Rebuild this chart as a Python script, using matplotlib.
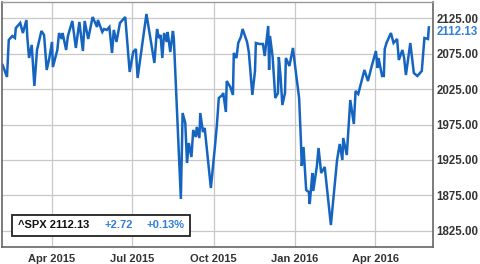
import pandas as pd
import numpy as np
import matplotlib
matplotlib.use("Agg")
import matplotlib.pyplot as plt
import matplotlib.dates as mdates
from matplotlib.patches import Rectangle

dates = [
    "2015-02-04", "2015-02-09", "2015-02-11", "2015-02-15", "2015-02-18", "2015-02-19",
    "2015-02-24", "2015-02-27", "2015-03-03", "2015-03-04", "2015-03-06", "2015-03-09",
    "2015-03-12", "2015-03-15", "2015-03-20", "2015-03-23", "2015-03-26", "2015-03-29",
    "2015-04-01", "2015-04-02", "2015-04-07", "2015-04-09", "2015-04-12", "2015-04-13",
    "2015-04-17", "2015-04-19", "2015-04-24", "2015-04-28", "2015-05-02", "2015-05-06",
    "2015-05-08", "2015-05-12", "2015-05-17", "2015-05-22", "2015-05-23", "2015-05-28",
    "2015-05-30", "2015-06-02", "2015-06-05", "2015-06-08", "2015-06-10", "2015-06-13",
    "2015-06-17", "2015-06-23", "2015-06-28", "2015-07-02", "2015-07-05", "2015-07-07",
    "2015-07-17", "2015-07-26", "2015-07-29", "2015-07-31", "2015-08-02", "2015-08-04",
    "2015-08-06", "2015-08-09", "2015-08-10", "2015-08-13", "2015-08-16", "2015-08-17",
    "2015-08-25", "2015-08-27", "2015-08-30", "2015-09-01", "2015-09-03", "2015-09-06",
    "2015-09-08", "2015-09-11", "2015-09-12", "2015-09-15", "2015-09-16", "2015-09-19",
    "2015-09-21", "2015-09-28", "2015-10-03", "2015-10-05", "2015-10-07", "2015-10-11",
    "2015-10-12", "2015-10-15", "2015-10-16", "2015-10-20", "2015-10-23", "2015-10-24",
    "2015-10-27", "2015-10-29", "2015-11-01", "2015-11-03", "2015-11-08", "2015-11-10",
    "2015-11-14", "2015-11-17", "2015-11-18", "2015-11-22", "2015-11-26", "2015-11-28",
    "2015-12-01", "2015-12-02", "2015-12-03", "2015-12-04", "2015-12-07", "2015-12-10",
    "2015-12-13", "2015-12-14", "2015-12-16", "2015-12-18", "2015-12-21", "2015-12-22",
    "2015-12-26", "2015-12-30", "2016-01-02", "2016-01-06", "2016-01-08", "2016-01-09",
    "2016-01-11", "2016-01-14", "2016-01-17", "2016-01-18", "2016-01-21", "2016-01-22",
    "2016-01-26", "2016-01-28", "2016-01-31", "2016-02-04", "2016-02-11", "2016-02-18",
    "2016-02-21", "2016-02-24", "2016-02-25", "2016-02-29", "2016-03-04", "2016-03-08",
    "2016-03-10", "2016-03-13", "2016-03-20", "2016-03-24", "2016-03-28", "2016-04-02",
    "2016-04-04", "2016-04-05", "2016-04-09", "2016-04-11", "2016-04-12", "2016-04-14",
    "2016-04-19", "2016-04-22", "2016-04-26", "2016-04-28", "2016-05-02", "2016-05-04",
    "2016-05-06", "2016-05-11", "2016-05-15", "2016-05-19", "2016-05-24", "2016-05-27",
    "2016-05-31", "2016-06-01",
]

closes = [
    2059.0, 2042.1, 2094.4, 2100.0, 2097.2, 2111.3,
    2118.4, 2104.2, 2122.6, 2098.6, 2068.9, 2087.3,
    2029.4, 2080.2, 2107.1, 2101.4, 2052.0, 2068.9,
    2091.6, 2056.2, 2080.2, 2104.2, 2095.8, 2104.2,
    2080.2, 2100.0, 2121.2, 2083.1, 2119.8, 2078.8,
    2121.2, 2095.8, 2126.8, 2112.7, 2122.6, 2105.7,
    2109.9, 2108.5, 2112.7, 2076.0, 2108.5, 2091.6,
    2118.4, 2126.8, 2049.2, 2077.4, 2081.6, 2040.7,
    2131.1, 2061.9, 2109.9, 2097.2, 2101.4, 2068.9,
    2104.2, 2091.6, 2105.7, 2077.4, 2107.1, 2097.2,
    1869.8, 1991.2, 1977.1, 1920.6, 1948.9, 1929.1,
    1967.2, 1957.3, 1971.5, 1955.9, 1991.2, 1964.4,
    1970.1, 1885.3, 1948.9, 1977.1, 2012.4, 2016.7,
    2019.5, 1992.7, 2036.4, 2028.0, 2016.7, 2076.0,
    2068.9, 2090.1, 2098.6, 2109.9, 2091.6, 2077.4,
    2016.7, 2050.6, 2090.1, 2088.7, 2088.7, 2071.7,
    2104.2, 2114.1, 2052.0, 2100.0, 2070.3, 2012.4,
    2019.5, 2070.3, 2042.1, 2002.5, 2019.5, 2068.9,
    2057.6, 2083.1, 2052.0, 2012.4, 1953.1, 1916.4,
    1943.2, 1882.5, 1879.7, 1862.7, 1906.5, 1881.1,
    1915.0, 1941.8, 1906.5, 1915.0, 1833.0, 1924.9,
    1947.5, 1924.9, 1955.9, 1931.9, 2009.6, 1975.7,
    2022.3, 2018.1, 2052.0, 2036.4, 2056.2, 2078.8,
    2054.8, 2068.9, 2043.5, 2043.5, 2081.6, 2090.1,
    2104.2, 2090.1, 2095.8, 2066.1, 2080.2, 2068.9,
    2044.9, 2090.1, 2047.7, 2043.5, 2050.6, 2097.2,
    2095.8, 2112.13,
]

symbol = "^SPX"
last_price = 2112.13
change = "+2.72"
change_pct = "+0.13%"
y_ticks = [1825, 1875, 1925, 1975, 2025, 2075, 2125]
x_ticks = ["2015-04-01", "2015-07-01", "2015-10-01", "2016-01-01", "2016-04-01"]

line_blue = "#1565c0"
text_blue = "#2f7fd8"
text_dark = "#333333"
font = "Liberation Sans"

s = pd.Series(closes, index=pd.to_datetime(dates))

fig = plt.figure(figsize=(4.8, 2.64), dpi=100)
ax = fig.add_axes([2 / 480, 1 - 247 / 264, 431 / 480, 245 / 264])

ax.plot(s.index, s.values, color=line_blue, lw=1.8, solid_joinstyle="miter")

ax.set_xlim(pd.Timestamp("2015-02-03 08:00"), pd.Timestamp("2016-06-05 17:00"))
ax.set_ylim(1802, 2148)

ax.set_yticks(y_ticks)
ax.yaxis.tick_right()
ax.yaxis.set_major_formatter(plt.FuncFormatter(lambda v, p: f"{v:.2f}"))
ax.set_xticks(pd.to_datetime(x_ticks))
ax.xaxis.set_major_formatter(mdates.DateFormatter("%b %Y"))
ax.tick_params(length=0, colors=text_dark)
ax.tick_params(axis="y", pad=2.5, labelsize=8.3)
ax.tick_params(axis="x", pad=5, labelsize=8)
for lab in ax.get_xticklabels() + ax.get_yticklabels():
    lab.set_fontfamily(font)
    lab.set_fontweight("bold")

ax.grid(True, color="#c8c8c8", lw=0.9)
ax.set_axisbelow(True)
for side in ["left", "bottom", "right"]:
    ax.spines[side].set_color("#666666")
    ax.spines[side].set_linewidth(1.2)
ax.spines["top"].set_color("#999999")
ax.spines["top"].set_linewidth(1.0)

# current value tag under the 2125 label
ax.annotate(f"{last_price:.2f}", xy=(1, last_price), xycoords=("axes fraction", "data"),
            xytext=(2.5, -3), textcoords="offset points", va="center", ha="left",
            color=text_blue, fontsize=8.3, fontweight="bold", fontfamily=font,
            annotation_clip=False)

# quote box
ax.add_patch(Rectangle((0.0232, 0.045), 0.413, 0.086, transform=ax.transAxes,
                       facecolor="white", edgecolor="#222222", lw=1.3, zorder=5))
ax.text(0.0371, 0.089, f"{symbol} {last_price:.2f}", transform=ax.transAxes,
        va="center", ha="left", color="#111111", fontsize=8, fontweight="bold",
        fontfamily=font, zorder=6)
ax.text(0.2367, 0.089, change, transform=ax.transAxes, va="center", ha="left",
        color=text_blue, fontsize=8, fontweight="bold", fontfamily=font, zorder=6)
ax.text(0.3364, 0.089, change_pct, transform=ax.transAxes, va="center", ha="left",
        color=text_blue, fontsize=8, fontweight="bold", fontfamily=font, zorder=6)

fig.savefig("out.png", dpi=100)
